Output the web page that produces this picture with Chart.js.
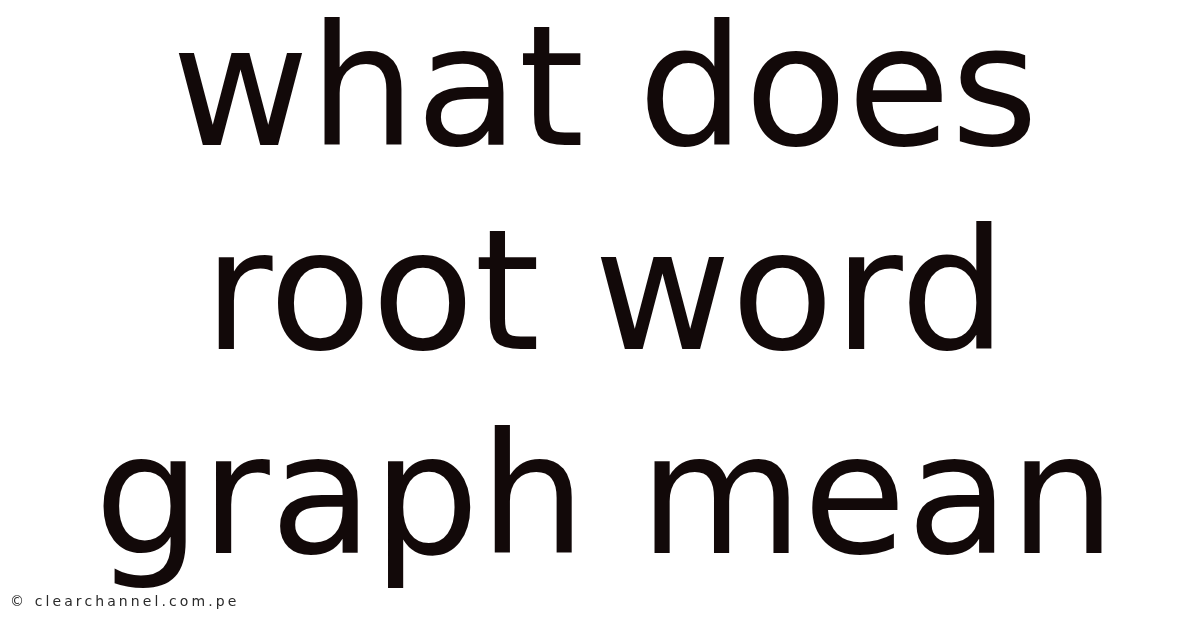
<!DOCTYPE html>
<html>
<head>
<meta charset="utf-8">
<title>what does root word graph mean</title>
<script src="https://cdn.jsdelivr.net/npm/chart.js@4.4.1/dist/chart.umd.min.js"></script>
<style>
  html, body { margin: 0; padding: 0; background: #ffffff; }
  #wrap { width: 1200px; height: 628px; position: relative; }
</style>
</head>
<body>
<div id="wrap"><canvas id="myChart"></canvas></div>
<script>
// text content of the picture
var titleLines = ['what does', 'root word', 'graph mean'];
var creditText = '\u00a9 clearchannel.com.pe';
// no series in this picture, the chart stays empty
var categories = [];
var seriesValues = [];

// small plugin for the credit line in the bottom left corner
var creditPlugin = {
    id: 'credit',
    afterDraw: function(chart) {
        var ctx = chart.ctx;
        ctx.save();
        ctx.font = '14px "DejaVu Sans"';
        ctx.letterSpacing = '3.1px';
        ctx.fillStyle = '#2a2a2a';
        ctx.textAlign = 'left';
        ctx.textBaseline = 'alphabetic';
        ctx.fillText(creditText, 10, 606);
        ctx.restore();
    }
};

var ctx = document.getElementById('myChart').getContext('2d');
var myChart = new Chart(ctx, {
    type: 'bar',
    data: {
        labels: categories,
        datasets: [{ data: seriesValues }]
    },
    options: {
        responsive: true,
        maintainAspectRatio: false,
        animation: false,
        layout: { padding: { left: 10, right: 0, top: 0, bottom: 0 } },
        scales: {
            x: { display: false },
            y: { display: false }
        },
        plugins: {
            legend: { display: false },
            tooltip: { enabled: false },
            title: {
                display: true,
                text: titleLines,
                color: '#120909',
                font: { family: '"DejaVu Sans"', size: 168, weight: 'normal', lineHeight: 1.212 },
                padding: { top: 0, bottom: 0 }
            }
        }
    },
    plugins: [creditPlugin]
});
</script>
</body>
</html>
